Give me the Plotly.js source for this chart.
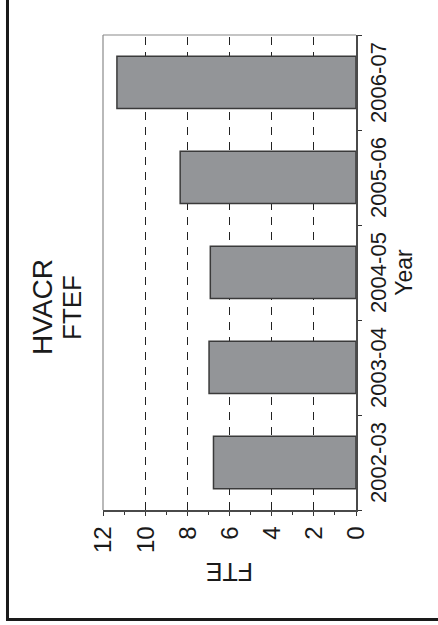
<!DOCTYPE html>
<html>
<head>
<meta charset="utf-8">
<script src="https://cdn.plot.ly/plotly-3.0.1.min.js"></script>
<style>
  html, body { margin: 0; padding: 0; background: #fff; overflow: hidden; width: 438px; height: 625px; }
  #wrap { position: absolute; left: 0; top: 625px; width: 625px; height: 438px;
          transform-origin: 0 0; transform: rotate(-90deg); }
  #chart { width: 625px; height: 438px; }
</style>
</head>
<body>
<div id="wrap"><div id="chart"></div></div>
<script>
// Data
const years = ['2002-03', '2003-04', '2004-05', '2005-06', '2006-07'];
const fte = [6.76, 6.97, 6.91, 8.34, 11.34];
const valueTicks = [0, 2, 4, 6, 8, 10, 12];
const titleLine1 = 'HVACR';
const titleLine2 = 'FTEF';
const xTitle = 'Year';
const yTitle = 'FTE';

const FONT = 'Liberation Sans, Arial, Helvetica, sans-serif';
const boundaries = years.map((_, i) => i - 0.5).concat([years.length - 0.5]);

const trace = {
  type: 'bar',
  x: years,
  y: fte,
  width: 0.55,
  marker: { color: '#939598', line: { color: '#3a3a3a', width: 1.5 } },
  hoverinfo: 'x+y'
};

const layout = {
  width: 625,
  height: 438,
  margin: { l: 115, r: 35, t: 103, b: 82 },
  paper_bgcolor: '#ffffff',
  plot_bgcolor: '#ffffff',
  showlegend: false,
  font: { family: FONT, color: '#1a1a1a' },
  xaxis: {
    type: 'category',
    range: [-0.5, years.length - 0.5],
    showline: true, linecolor: '#4a4a4a', linewidth: 1.5,
    ticks: 'outside', ticklen: 4, tickwidth: 1, tickcolor: '#333',
    tickson: 'boundaries',
    ticklabelstandoff: 2,
    tickfont: { family: FONT, size: 22, color: '#1a1a1a' },
    showgrid: false, zeroline: false,
    title: { text: xTitle, font: { family: FONT, size: 23, color: '#1a1a1a' }, standoff: 4 }
  },
  xaxis2: {
    overlaying: 'x', anchor: 'y', side: 'bottom', type: 'linear',
    range: [-0.5, years.length - 0.5],
    tickmode: 'array', tickvals: boundaries,
    ticks: 'inside', ticklen: 5, tickwidth: 1, tickcolor: '#333',
    showticklabels: false, showgrid: false, zeroline: false, showline: false
  },
  yaxis: {
    range: [0, 12],
    tickmode: 'array', tickvals: valueTicks,
    showline: true, linecolor: '#4a4a4a', linewidth: 1.5,
    ticks: 'outside', ticklen: 4, tickwidth: 1, tickcolor: '#333',
    minor: { dtick: 1, ticks: 'outside', ticklen: 3, tickwidth: 1, tickcolor: '#333', showgrid: false },
    ticklabelstandoff: 6,
    tickfont: { family: FONT, size: 24, color: '#1a1a1a' },
    showgrid: true, gridcolor: '#222', gridwidth: 1, griddash: '8px,7px',
    zeroline: false,
    title: { text: yTitle, font: { family: FONT, size: 25, color: '#1a1a1a' }, standoff: 2 }
  },
  yaxis2: {
    overlaying: 'y', anchor: 'x', side: 'left',
    range: [0, 12],
    tickmode: 'array', tickvals: valueTicks,
    ticks: 'inside', ticklen: 5, tickwidth: 1, tickcolor: '#333',
    minor: { dtick: 1, ticks: 'inside', ticklen: 3, tickwidth: 1, tickcolor: '#333', showgrid: false },
    showticklabels: false, showgrid: false, zeroline: false, showline: false
  },
  shapes: [
    // plot frame, top and right edges (lighter gray)
    { type: 'line', xref: 'paper', yref: 'paper', x0: 0, x1: 1, y0: 1, y1: 1,
      line: { color: '#8a8a8a', width: 1.2 }, layer: 'above' },
    { type: 'line', xref: 'paper', yref: 'paper', x0: 1, x1: 1, y0: 0, y1: 1,
      line: { color: '#8a8a8a', width: 1.2 }, layer: 'above' },
    // outer figure frame (only its left and top edges are visible)
    { type: 'line', xref: 'paper', yref: 'paper', x0: -0.2305, x1: -0.2305, y0: -1, y1: 1.3775,
      line: { color: '#1a1a1a', width: 3 }, layer: 'above' },
    { type: 'line', xref: 'paper', yref: 'paper', x0: -0.2335, x1: 2, y0: 1.3775, y1: 1.3775,
      line: { color: '#1a1a1a', width: 3 }, layer: 'above' }
  ],
  annotations: [
    { text: titleLine1, xref: 'paper', yref: 'paper', x: 0.427, y: 1.24,
      xanchor: 'center', yanchor: 'middle', showarrow: false,
      font: { family: FONT, size: 28, color: '#1a1a1a' } },
    { text: titleLine2, xref: 'paper', yref: 'paper', x: 0.427, y: 1.122,
      xanchor: 'center', yanchor: 'middle', showarrow: false,
      font: { family: FONT, size: 26, color: '#1a1a1a' } }
  ]
};

Plotly.newPlot('chart', [trace], layout, { displayModeBar: false, staticPlot: true });
</script>
</body>
</html>
